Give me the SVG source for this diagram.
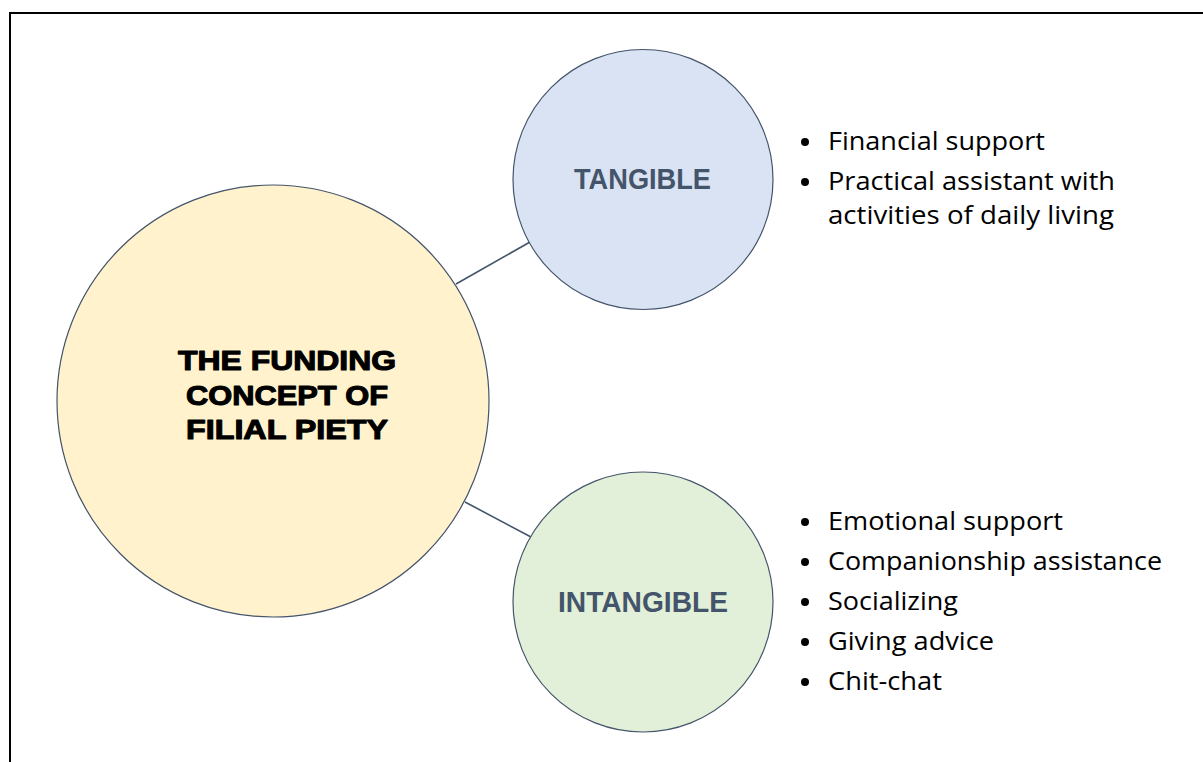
<svg xmlns="http://www.w3.org/2000/svg" width="1203" height="762" viewBox="0 0 1203 762">
<style>
.circ{stroke:#44546A;stroke-width:1.2}
.lbl{font-family:"Liberation Sans",Arial,sans-serif;font-weight:bold;font-size:29px;fill:#44546A;text-anchor:middle}
.main{font-family:"Liberation Sans",Arial,sans-serif;font-weight:bold;font-size:27.5px;fill:#000;stroke:#000;stroke-width:1.1;stroke-linejoin:round;text-anchor:middle}
.item{font-family:"Open Sans","Noto Sans",sans-serif;font-size:25px;fill:#000}
.bul{fill:#000}
.conn{stroke:#44546A;stroke-width:1.6;fill:none}
</style>
<rect width="1203" height="762" fill="#fff"/>
<path d="M10,762 V13 H1203" fill="none" stroke="#000" stroke-width="2"/>
<g id="connectors">
<line class="conn" x1="456" y1="284" x2="530" y2="242"/>
<line class="conn" x1="465" y1="502" x2="531" y2="537"/>
</g>
<g id="node-main">
<circle class="circ" cx="273" cy="401" r="216" fill="#FFF2CC"/>
<text class="main" x="287" y="370" textLength="218" lengthAdjust="spacingAndGlyphs">THE FUNDING</text>
<text class="main" x="287" y="405" textLength="202" lengthAdjust="spacingAndGlyphs">CONCEPT OF</text>
<text class="main" x="287" y="439" textLength="202" lengthAdjust="spacingAndGlyphs">FILIAL PIETY</text>
</g>
<g id="node-tangible">
<circle class="circ" cx="643" cy="179.5" r="130" fill="#DAE3F3"/>
<text class="lbl" x="642.5" y="189" textLength="137" lengthAdjust="spacingAndGlyphs">TANGIBLE</text>
</g>
<g id="node-intangible">
<circle class="circ" cx="643" cy="602" r="130" fill="#E2F0D9"/>
<text class="lbl" x="643" y="612" textLength="170" lengthAdjust="spacingAndGlyphs">INTANGIBLE</text>
</g>
<g id="list-tangible">
<circle class="bul" cx="805" cy="142" r="4"/>
<text class="item" x="828" y="150" textLength="217" lengthAdjust="spacingAndGlyphs">Financial support</text>
<circle class="bul" cx="805" cy="182" r="4"/>
<text class="item" x="828" y="190" textLength="287" lengthAdjust="spacingAndGlyphs">Practical assistant with</text>
<text class="item" x="828" y="224" textLength="286" lengthAdjust="spacingAndGlyphs">activities of daily living</text>
</g>
<g id="list-intangible">
<circle class="bul" cx="805" cy="522" r="4"/>
<text class="item" x="828" y="530" textLength="235" lengthAdjust="spacingAndGlyphs">Emotional support</text>
<circle class="bul" cx="805" cy="562" r="4"/>
<text class="item" x="828" y="570" textLength="334" lengthAdjust="spacingAndGlyphs">Companionship assistance</text>
<circle class="bul" cx="805" cy="602" r="4"/>
<text class="item" x="828" y="610" textLength="130" lengthAdjust="spacingAndGlyphs">Socializing</text>
<circle class="bul" cx="805" cy="642" r="4"/>
<text class="item" x="828" y="650" textLength="166" lengthAdjust="spacingAndGlyphs">Giving advice</text>
<circle class="bul" cx="805" cy="682" r="4"/>
<text class="item" x="828" y="690" textLength="114" lengthAdjust="spacingAndGlyphs">Chit-chat</text>
</g>
</svg>
